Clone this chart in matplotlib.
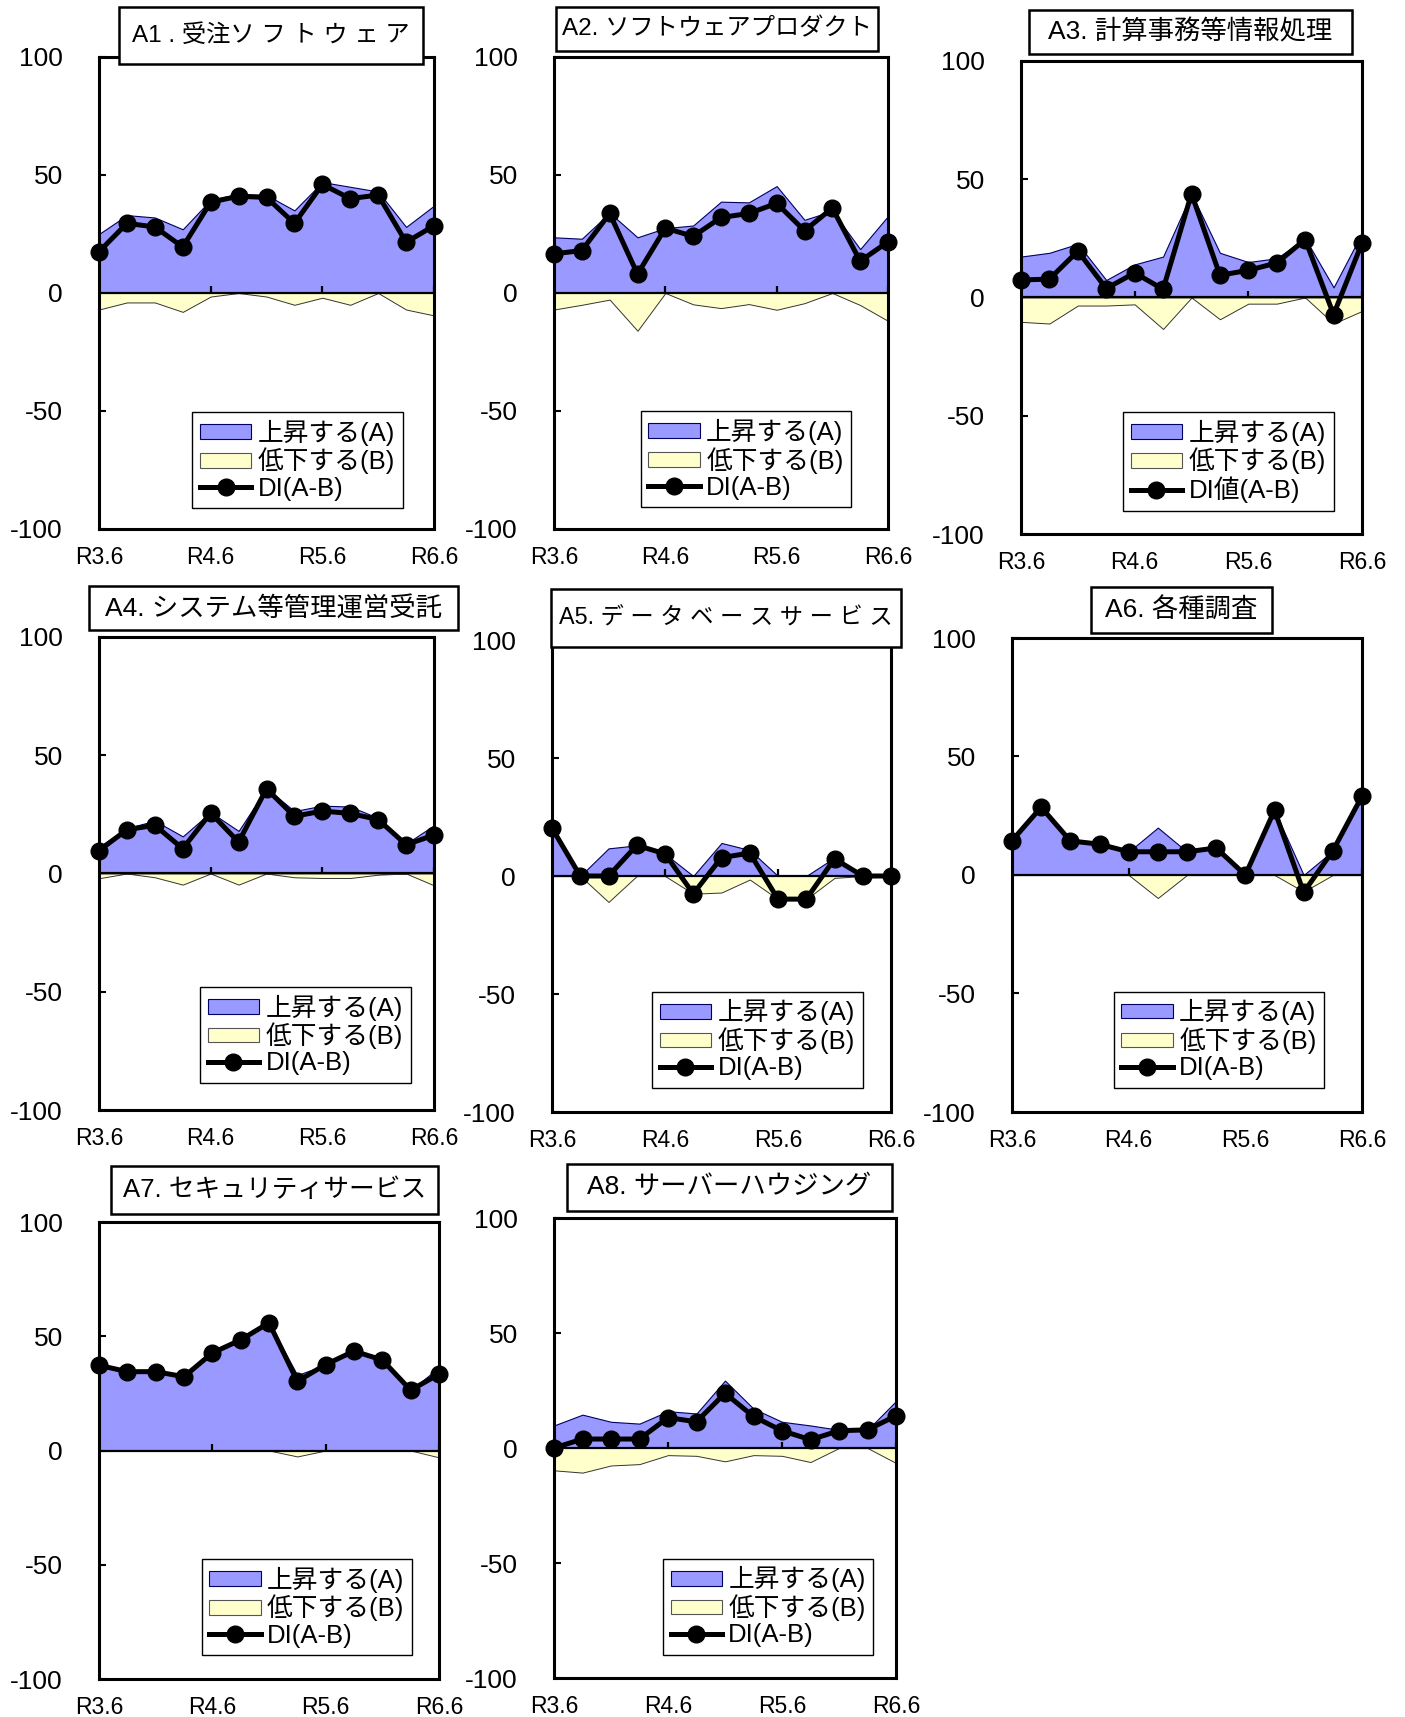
import matplotlib
matplotlib.use("Agg")
import matplotlib.pyplot as plt
from matplotlib.patches import Patch, Rectangle
from matplotlib.lines import Line2D

plt.rcParams['font.family'] = ['Liberation Sans', 'Noto Sans CJK JP']
plt.rcParams['axes.unicode_minus'] = False

# quarters R3.6 ... R6.6
periods = ['R3.6', 'R3.9', 'R3.12', 'R4.3', 'R4.6', 'R4.9', 'R4.12',
           'R5.3', 'R5.6', 'R5.9', 'R5.12', 'R6.3', 'R6.6']
tick_labels = ['R3.6', 'R4.6', 'R5.6', 'R6.6']

titles = ['A1 . 受注ソ フ ト ウ ェ ア',
          'A2. ソフトウェアプロダクト',
          'A3. 計算事務等情報処理',
          'A4. システム等管理運営受託',
          'A5. デ ー タ ベ ー ス サ ー ビ ス',
          'A6. 各種調査',
          'A7. セキュリティサービス',
          'A8. サーバーハウジング']

# 上昇する(A), 低下する(B), DI(A-B)
a1_up = [25, 33, 32, 27, 39.5, 42, 41.5, 35, 47, 45, 43, 28, 37]
a1_down = [-7, -4, -4, -8, -1.5, 0, -1.5, -5, -2, -5, 0, -7, -9.5]
a1_di = [17.5, 29.5, 28, 19.5, 38.5, 41, 40.5, 29.5, 46, 40, 41.5, 21.5, 28.5]

a2_up = [23.6, 23, 34, 23.6, 27.5, 28.6, 38.7, 38.4, 45.3, 31, 34.8, 18.6, 32.6]
a2_down = [-7, -5, -2.8, -16, 0, -4.8, -6.4, -4.7, -7.1, -4.3, 0, -5.1, -11.8]
a2_di = [16.6, 18, 33.7, 8, 27.5, 24, 32, 33.7, 38, 26.4, 36, 13.5, 21.7]

a3_up = [17.3, 18.9, 22.7, 7.4, 14, 17.3, 44, 18.9, 15, 16.6, 25, 4.3, 27.3]
a3_down = [-10.3, -11, -3.4, -3.4, -2.9, -13.3, 0, -9.2, -2.6, -2.6, 0, -11, -5.7]
a3_di = [7.4, 7.8, 19.6, 3.8, 10.4, 3.5, 43.9, 9.4, 11.5, 14.6, 24.5, -7.2, 23]

a4_up = [11.3, 19.2, 22.3, 15.7, 25.9, 18, 36, 26.4, 28.7, 28.3, 23.5, 12.6, 20.4]
a4_down = [-2, 0, -1.6, -4.7, 0, -4.7, 0, -1.6, -1.9, -1.9, -0.5, 0, -5]
a4_di = [9.7, 18.5, 20.4, 10.5, 25.6, 13.3, 35.8, 24.2, 26.4, 25.4, 22.8, 12.2, 16.2]

a5_up = [20.3, 0, 11.7, 13, 9.4, 0, 14, 11, 0, 0, 7.8, 0, 0]
a5_down = [0, 0, -11, 0, 0, -7.5, -7, -1.5, -9.8, -9.8, -0.8, 0, 0]
a5_di = [20.3, 0, 0, 13, 9.4, -7.5, 7.8, 9.7, -9.8, -9.8, 7.3, 0, 0]

a6_up = [14.5, 28.6, 14.4, 13, 9.8, 20, 9.8, 11.4, 0, 27.3, 0, 10.2, 33.3]
a6_down = [0, 0, 0, 0, 0, -9.7, 0, 0, 0, 0, -7, 0, 0]
a6_di = [14.5, 28.6, 14.4, 13, 9.8, 9.8, 9.8, 11.4, 0, 27.3, -7.3, 10.2, 33.3]

a7_up = [37.3, 34.5, 34.5, 32.3, 42.7, 48.4, 55.9, 33, 37.6, 43.5, 39.6, 26.4, 36.4]
a7_down = [0, 0, 0, 0, 0, 0, 0, -2.6, 0, 0, 0, 0, -3]
a7_di = [37.3, 34.5, 34.5, 32.3, 42.7, 48.4, 55.9, 30.3, 37.6, 43.5, 39.6, 26.4, 33.4]

a8_up = [9.8, 14.5, 11.4, 10.6, 16, 15, 29.3, 17.1, 11.4, 9.8, 7.9, 7.9, 20.4]
a8_down = [-9.7, -10.7, -7.6, -7, -3.1, -3.4, -5.8, -3.1, -3.4, -6.1, 0, 0, -6.5]
a8_di = [0, 3.9, 3.9, 3.9, 13.2, 11.4, 23.8, 13.7, 7.5, 3.6, 7.5, 7.9, 14]

ups = [a1_up, a2_up, a3_up, a4_up, a5_up, a6_up, a7_up, a8_up]
downs = [a1_down, a2_down, a3_down, a4_down, a5_down, a6_down, a7_down, a8_down]
dis = [a1_di, a2_di, a3_di, a4_di, a5_di, a6_di, a7_di, a8_di]
di_labels = ['DI(A-B)', 'DI(A-B)', 'DI値(A-B)', 'DI(A-B)',
             'DI(A-B)', 'DI(A-B)', 'DI(A-B)', 'DI(A-B)']

# layout in pixels: axes (left, top, right, bottom), title box, legend anchor
W, H = 1405, 1717
axes_px = [(99, 57, 434, 529), (554, 57, 888, 529), (1021, 61, 1362, 534),
           (99, 637, 434, 1110), (552, 640, 891, 1112), (1012, 638, 1362, 1112),
           (99, 1222, 439, 1679), (554, 1218, 896, 1678)]
title_px = [(119, 7, 423, 64), (556, 7, 878, 51), (1029, 10, 1352, 54),
            (89, 586, 458, 630), (551, 589, 901, 647), (1091, 587, 1272, 633),
            (111, 1166, 438, 1214), (567, 1164, 892, 1211)]
title_size = [17.5, 17.5, 19, 19, 16.8, 19, 18.5, 19]
legend_right = [0.907, 0.89, 0.917, 0.93, 0.916, 0.892, 0.921, 0.934]
legend_bottom = [0.044, 0.046, 0.049, 0.057, 0.051, 0.051, 0.052, 0.05]

COL_UP = '#9999FF'
COL_DOWN = '#FFFFCC'

fig = plt.figure(figsize=(W / 100, H / 100), dpi=100)

x = list(range(len(periods)))
tick_pos = [periods.index(t) for t in tick_labels]

for i in range(8):
    l, t, r, b = axes_px[i]
    ax = fig.add_axes([l / W, 1 - b / H, (r - l) / W, (b - t) / H])
    ax.fill_between(x, 0, ups[i], facecolor=COL_UP, edgecolor='#000060', lw=0.8, zorder=2)
    ax.fill_between(x, 0, downs[i], facecolor=COL_DOWN, edgecolor='#333333', lw=0.7, zorder=2)
    ax.axhline(0, color='black', lw=1.6, zorder=3)
    ax.vlines(tick_pos, 0, 2.8, color='black', lw=1.6, zorder=3)
    ax.plot(x, dis[i], color='black', lw=3.6, marker='o', ms=12, zorder=5, clip_on=False)

    ax.set_xlim(0, 12)
    ax.set_ylim(-100, 100)
    ax.set_yticks([-100, -50, 0, 50, 100])
    ax.set_xticks(tick_pos)
    ax.set_xticklabels(tick_labels)
    ax.tick_params(axis='y', direction='in', length=5, width=1.5, pad=26, labelsize=19)
    ax.tick_params(axis='x', length=0, pad=12, labelsize=16.5)
    for s in ax.spines.values():
        s.set_linewidth(2.2)

    handles = [Patch(facecolor=COL_UP, edgecolor='#000060', lw=0.8),
               Patch(facecolor=COL_DOWN, edgecolor='#555555', lw=0.8),
               Line2D([], [], color='black', lw=3.6, marker='o', ms=12)]
    leg = ax.legend(handles, ['上昇する(A)', '低下する(B)', di_labels[i]],
                    loc='lower right', bbox_to_anchor=(legend_right[i], legend_bottom[i]),
                    fontsize=18.5, frameon=True, fancybox=False, framealpha=1,
                    edgecolor='black', handlelength=2.0, handleheight=0.5,
                    labelspacing=0.08, handletextpad=0.25, borderpad=0.3,
                    borderaxespad=0)
    leg.get_frame().set_linewidth(1.0)

    tl, tt, tr, tb = title_px[i]
    fig.patches.append(Rectangle((tl / W, 1 - tb / H), (tr - tl) / W, (tb - tt) / H,
                                 transform=fig.transFigure, facecolor='white',
                                 edgecolor='black', lw=1.8, zorder=10))
    fig.text((tl + tr) / 2 / W, 1 - (tt + tb) / 2 / H, titles[i],
             ha='center', va='center', fontsize=title_size[i], zorder=11)

fig.savefig('out.png', dpi=100)
